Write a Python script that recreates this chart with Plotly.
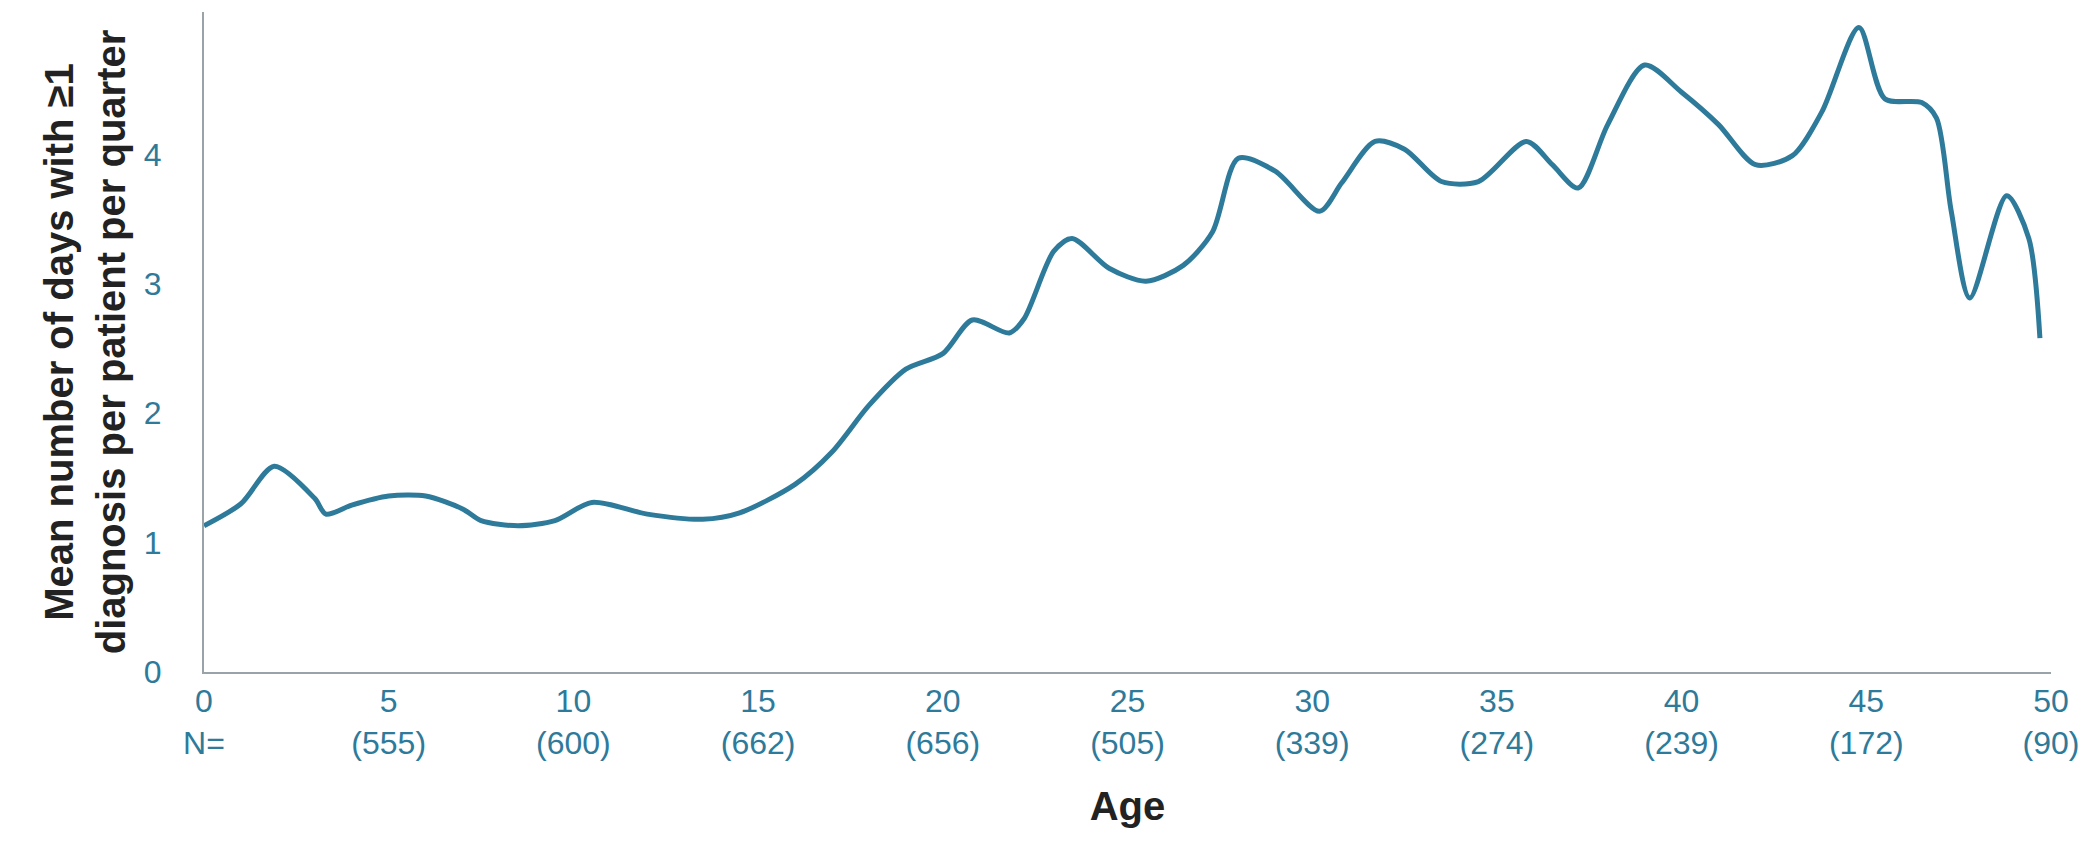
import plotly.graph_objects as go

age = [0, 1, 1.9, 3, 3.3, 4, 5, 6, 7, 7.5, 8.5, 9.5, 10.5, 12, 13.5, 14.5, 16, 17, 18, 19, 20,
       20.8, 21.8, 22.2, 23, 23.5, 24.5, 25.5, 26.5, 27.3, 28, 29, 30.2, 30.8, 31.7, 32.5, 33.5,
       34.5, 35.8, 36.5, 37.2, 38, 39, 40, 41, 42, 43, 43.8, 44.8, 45.5, 46.5, 46.9, 47.3, 47.8,
       48.8, 49.4, 49.7]
mean_days = [1.13, 1.3, 1.59, 1.34, 1.22, 1.29, 1.36, 1.36, 1.26, 1.17, 1.13, 1.17, 1.31, 1.22,
             1.18, 1.23, 1.45, 1.7, 2.06, 2.34, 2.46, 2.72, 2.62, 2.73, 3.25, 3.35, 3.12, 3.02,
             3.14, 3.4, 3.97, 3.87, 3.56, 3.78, 4.1, 4.04, 3.79, 3.79, 4.1, 3.92, 3.74, 4.23,
             4.69, 4.48, 4.23, 3.92, 3.99, 4.33, 4.98, 4.43, 4.4, 4.28, 3.56, 2.89, 3.68, 3.35,
             2.58]

tick_ages = [0, 5, 10, 15, 20, 25, 30, 35, 40, 45, 50]
tick_n = ["N=", "(555)", "(600)", "(662)", "(656)", "(505)", "(339)", "(274)", "(239)", "(172)", "(90)"]

blue = "#2e7a9a"
font = "Liberation Sans, Arial, sans-serif"

fig = go.Figure(go.Scatter(x=age, y=mean_days, mode="lines",
                           line=dict(color=blue, width=5, shape="spline", smoothing=0.8)))

fig.update_layout(
    width=2091, height=844, plot_bgcolor="white", paper_bgcolor="white",
    margin=dict(l=196, r=48, t=4, b=180), showlegend=False,
    font=dict(family=font),
)
fig.update_xaxes(
    range=[0, 50], tickvals=tick_ages,
    ticktext=[f"{a}<br>{n}" for a, n in zip(tick_ages, tick_n)],
    tickfont=dict(size=32, color=blue), showgrid=False, zeroline=False,
    showline=True, linecolor="#9aa4a8", linewidth=2, ticks="",
    title=dict(text="<b>Age</b>", font=dict(size=40, color="#222"), standoff=32),
)
fig.update_yaxes(
    range=[0, 5.1], tickvals=[0, 1, 2, 3, 4, 5],
    tickfont=dict(size=32, color=blue), showgrid=False, zeroline=False,
    showline=True, linecolor="#9aa4a8", linewidth=2, ticks="outside",
    ticklen=34, tickcolor="white",
    title=dict(text="<b>Mean number of days with ≥1<br>diagnosis per patient per quarter</b>",
               font=dict(size=40, color="#222"), standoff=6),
)

fig.write_html("out.html")
